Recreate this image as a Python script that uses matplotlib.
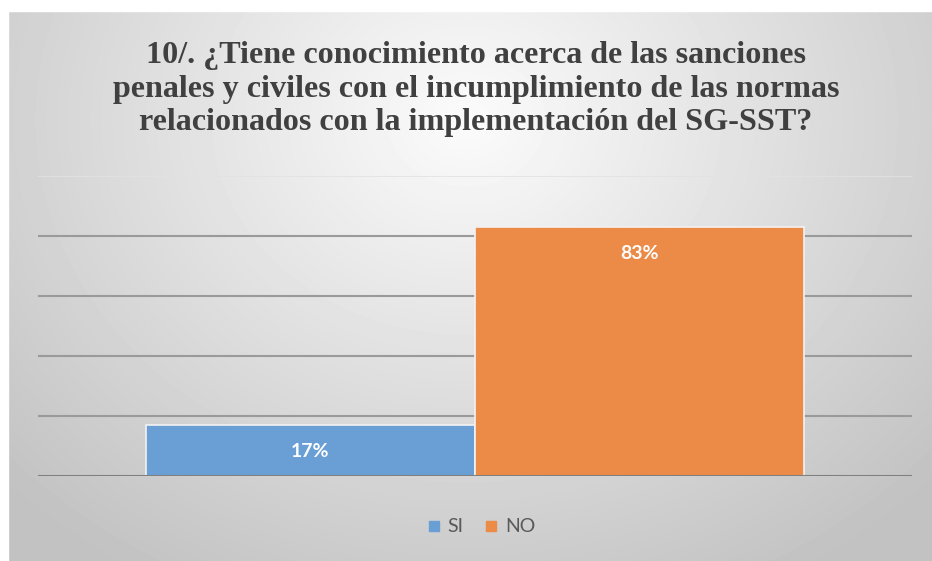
import numpy as np
import matplotlib
matplotlib.use("Agg")
import matplotlib.pyplot as plt
from matplotlib.patches import Rectangle
from matplotlib.lines import Line2D

title = "10/. ¿Tiene conocimiento acerca de las sanciones\npenales y civiles con el incumplimiento de las normas\nrelacionados con la implementación del SG-SST?"
series = ["SI", "NO"]
values = [0.17, 0.83]
labels = ["17%", "83%"]
colors = ["#6a9fd6", "#ec8b48"]
offsets = [-0.1885, 0.1885]

fig = plt.figure(figsize=(9.32, 5.61), dpi=100)

# background gradient
bg = fig.add_axes([0, 0, 1, 1])
yy, xx = np.mgrid[0:561, 0:932]
r = np.sqrt(((xx - 466) / 620.0) ** 2 + ((yy - 120) / 520.0) ** 2)
shade = np.clip(0.985 - 0.22 * r, 0.76, 1.0)
bg.imshow(shade, cmap="gray", vmin=0, vmax=1, extent=[0, 932, 561, 0], aspect="auto")
bg.add_patch(Rectangle((0, 0), 932, 11, color="white", zorder=3))
bg.add_patch(Rectangle((0, 0), 8, 561, color="white", zorder=3))
bg.set_xlim(0, 932)
bg.set_ylim(561, 0)
bg.axis("off")

ax = fig.add_axes([38 / 932, 85 / 561, 874 / 932, 300 / 561])
ax.patch.set_alpha(0)
ax.set_xlim(-0.5, 0.5)
ax.set_ylim(0, 1.0)
for g in [0.2, 0.4, 0.6, 0.8]:
    ax.axhline(g, color="#9a9a9a", lw=1.5, zorder=1)
ax.axhline(1.0, color="#e2e2e2", lw=1.2, zorder=1)
ax.axhline(0, color="#7f7f7f", lw=2.2, zorder=3)

for i in range(2):
    ax.bar(offsets[i], values[i], 0.377, color=colors[i], edgecolor="#f2f2f2",
           lw=1.2, label=series[i], zorder=2)
    ax.text(offsets[i], values[i] - 0.088, labels[i], ha="center", va="center",
            color="white", fontsize=14, fontweight="bold", family="Lato", zorder=4)

for s in ax.spines.values():
    s.set_visible(False)
ax.set_xticks([])
ax.set_yticks([])

fig.text(476 / 932, 1 - 89 / 561, title, ha="center", va="center", fontsize=23.1,
         fontweight="bold", family="Liberation Serif", color="#404040", linespacing=1.22)

handles = [Line2D([], [], ls="none", marker="s", markersize=7, color=c) for c in colors]
leg = fig.legend(handles, series, loc="center", bbox_to_anchor=(482 / 932, 1 - 527 / 561),
                 ncol=2, frameon=False, fontsize=14, handlelength=0.5,
                 handletextpad=0.45, columnspacing=1.2)
for t in leg.get_texts():
    t.set_color("#595959")
    t.set_family("Lato")

fig.savefig("out.png", dpi=100)
